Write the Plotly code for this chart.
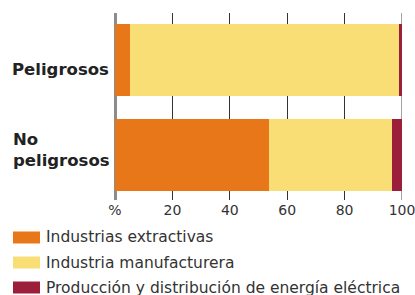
import plotly.graph_objects as go

categories = ["Peligrosos", "No peligrosos"]
category_labels = ["Peligrosos", "No<br>peligrosos"]
series_names = ["Industrias extractivas", "Industria manufacturera",
                "Producción y distribución de energía eléctrica"]
extractivas = [5.2, 53.7]
manufacturera = [93.8, 42.8]
energia = [1.0, 3.5]
tick_values = [0, 20, 40, 60, 80, 100]
tick_labels = ["%", "20", "40", "60", "80", "100"]

colors = ["#E8771A", "#F9DE76", "#9B1F3B"]
series_values = [extractivas, manufacturera, energia]

W, H = 415, 295
L, R, T, B = 115, 13, 13, 95
plot_h = H - T - B


def py(p):
    return (H - B - p) / plot_h


fig = go.Figure()
for name, vals, col in zip(series_names, series_values, colors):
    fig.add_trace(go.Bar(
        y=list(range(len(categories))), x=vals, name=name, orientation="h",
        marker=dict(color=col, line=dict(width=0)), width=0.758,
        showlegend=False, hoverinfo="skip",
    ))

annotations = []
# category labels
annotations.append(dict(text="<b>" + category_labels[0] + "</b>", xref="paper", yref="paper",
                        x=-4 / 287, xanchor="right", y=py(69), yanchor="middle",
                        showarrow=False, align="right",
                        font=dict(family="DejaVu Sans", size=16.5, color="#222")))
annotations.append(dict(text="<b>" + category_labels[1] + "</b>", xref="paper", yref="paper",
                        x=(11 - L) / 287, xanchor="left", y=py(150), yanchor="middle",
                        showarrow=False, align="left",
                        font=dict(family="DejaVu Sans", size=16.5, color="#222")))

shapes = [dict(type="line", xref="x", yref="paper", x0=100, x1=100, y0=0, y1=1,
               line=dict(color="#8c8c8c", width=1.6), layer="below")]

row_centers = [237.5, 262.5, 287.5]
for name, col, yc in zip(series_names, colors, row_centers):
    shapes.append(dict(type="rect", xref="paper", yref="paper",
                       x0=(13 - L) / 287, x1=(40 - L) / 287,
                       y0=py(yc + 6), y1=py(yc - 6),
                       fillcolor=col, line=dict(width=0)))
    annotations.append(dict(text=name, xref="paper", yref="paper",
                            x=(44 - L) / 287, xanchor="left", y=py(yc), yanchor="middle",
                            showarrow=False,
                            font=dict(family="DejaVu Sans", size=15.5, color="#333")))

fig.update_layout(
    width=W, height=H,
    margin=dict(l=L, r=R, t=T, b=B, pad=0, autoexpand=False),
    paper_bgcolor="white", plot_bgcolor="white",
    barmode="stack", bargap=0,
    annotations=annotations, shapes=shapes,
    xaxis=dict(range=[0, 100], tickvals=tick_values, ticktext=tick_labels,
               showgrid=True, gridcolor="#333333", gridwidth=1,
               zeroline=True, zerolinecolor="#8c8c8c", zerolinewidth=3,
               showline=False, ticks="", fixedrange=True, ticklabeloverflow="allow",
               automargin=False,
               tickfont=dict(family="DejaVu Sans", size=14, color="#333")),
    yaxis=dict(range=[(200 - 60) / 95, (13 - 60) / 95], showticklabels=False,
               showgrid=False, zeroline=False, showline=False, ticks="", fixedrange=True,
               automargin=False),
    font=dict(family="DejaVu Sans"),
)

fig.write_html("out.html", config={"displayModeBar": False},
               post_script="document.body.style.margin='0';document.body.style.overflow='hidden';")
